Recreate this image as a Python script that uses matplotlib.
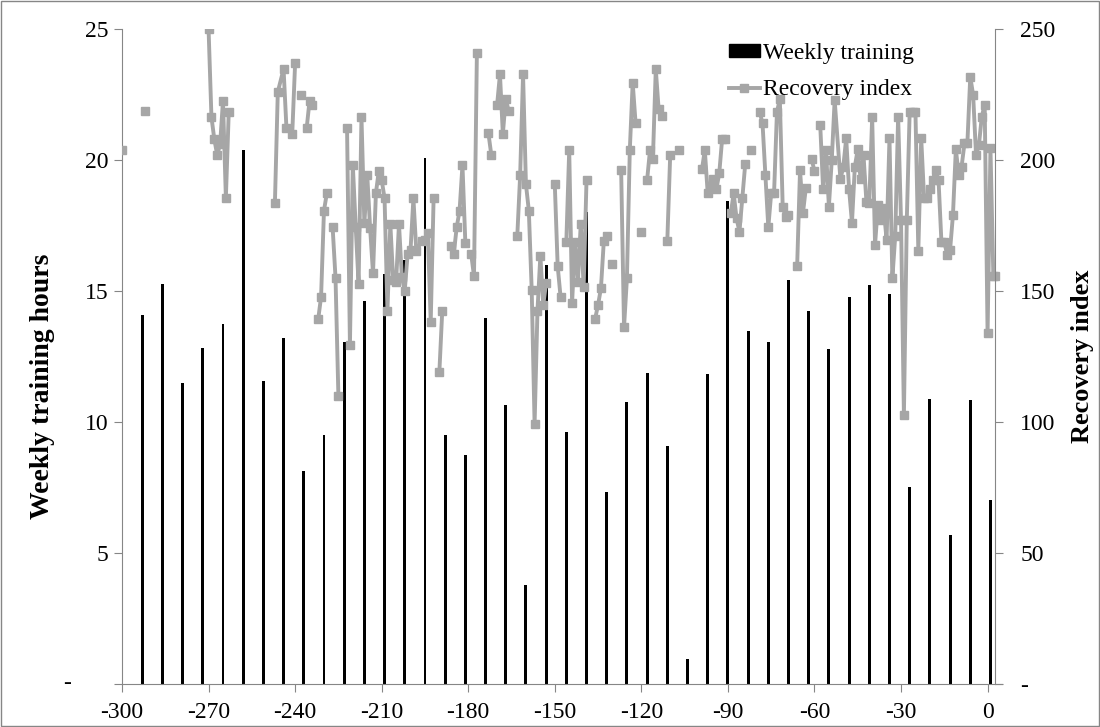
import numpy as np
import matplotlib
matplotlib.use('Agg')
import matplotlib.pyplot as plt
from matplotlib.patches import Patch, Rectangle
from matplotlib.lines import Line2D

plt.rcParams['font.family'] = ['Liberation Serif', 'DejaVu Serif']
plt.rcParams['axes.unicode_minus'] = False

nan = np.nan

# weekly training (hours), one bar per week
week_day = [-293, -286, -279, -272, -265, -258, -251, -244, -237, -230, -223,
            -216, -209, -202, -195, -188, -181, -174, -167, -160, -153, -146,
            -139, -132, -125, -118, -111, -104, -97, -90, -83, -76, -69, -62,
            -55, -48, -41, -34, -27, -20, -13, -6, 1]
week_hours = [14.1, 15.27, 11.5, 12.82, 13.74, 20.38, 11.56, 13.2, 8.14, 9.52,
              13.04, 14.62, 15.65, 16.2, 20.08, 9.5, 8.75, 13.98, 10.63, 3.78,
              15.99, 9.6, 18.0, 7.32, 10.76, 11.88, 9.1, 0.94, 11.83, 18.45,
              13.46, 13.04, 15.43, 14.24, 12.77, 14.76, 15.23, 14.89, 7.53,
              10.87, 5.7, 10.83, 7.01]

# recovery index (daily, nan = missing day -> gap in line)
rec_day = [-300, nan,
           -292, nan,
           -270, -269, -268, -267, -266, -265, -264, -263, nan,
           -247, -246, -244, -243, -241, -240, nan,
           -238, nan,
           -236, -235, -234, nan,
           -232, -231, -230, -229, nan,
           -227, -226, -225, nan,
           -222, -221, -220, -219, -218, -217, -216, -215, -214, -213, -212,
           -211, -210, -209, -208, -207, -206, -205, -204, -203, -202, -201,
           -200, -199, -198, -196, -195, -194, -193, -192, nan,
           -190, -189, nan,
           -186, -185, -184, -183, -182, -181, nan,
           -179, -178, -177, nan,
           -173, -172, nan,
           -170, -169, -168, -167, -166, nan,
           -163, -162, -161, -160, -159, -158, -157, -156, -155, -154, -153, nan,
           -150, -149, -148, nan,
           -146, -145, -144, -143, -142, -141, -140, -139, nan,
           -136, -135, -134, -133, -132, nan,
           -130, nan,
           -127, -126, -125, -124, -123, -122, nan,
           -120, nan,
           -118, -117, -116, -115, -114, -113, nan,
           -111, -110, nan,
           -107, nan,
           -99, -98, -97, -96, -95, -94, -93, -92, -91, nan,
           -89, -88, -87, -86, -85, -84, nan,
           -82, nan,
           -79, -78, -77, -76, -75, -74, -73, -72, -71, -70, -69, nan,
           -66, -65, -64, -63, nan,
           -61, -60, nan,
           -58, -57, -56, -55, -54, -53, -51, -50, -49, -48, -47, -46, -45,
           -44, -43, -42, -41, -40, -39, -38, -37, -36, -35, -34, -33, -32,
           -31, -30, -29, -28, -27, -26, -25, -24, -23, -22, -21, -20, -19,
           -18, -17, -16, -15, -14, -13, -12, -11, -10, -9, -8, -7, -6, -5,
           -4, -3, -2, -1, 0, 1, 2, 2.5]
rec_val = [203.8, nan,
           218.6, nan,
           250, 216.4, 207.9, 201.9, 206, 222.6, 185.6, 218.4, nan,
           183.7, 226, 234.7, 212.1, 209.9, 236.9, nan,
           225, nan,
           212.1, 222.6, 220.9, nan,
           139.2, 147.8, 180.7, 187.3, nan,
           174.3, 155.1, 110, nan,
           212.1, 129.4, 198.1, 174.5, 152.7, 216.3, 175.8, 194.3, 173.9, 156.7,
           187.3, 195.9, 192.4, 185.4, 142.5, 175.6, 154.2, 153.6, 175.6, 155.4,
           150.1, 164.3, 165.6, 185.4, 165.4, 169.2, 169.5, 172, 138.3, 185.4, nan,
           119.2, 142.5, nan,
           167.3, 164.3, 174.3, 180.7, 198.1, 168.4, nan,
           164.3, 155.7, 240.7, nan,
           210.2, 201.9, nan,
           221, 232.7, 209.9, 223.4, 218.8, nan,
           171, 194.3, 232.7, 190.8, 180.7, 150.4, 99.2, 142.5, 163.5, 144.7, 153.2, nan,
           190.8, 159.5, 147.8, nan,
           168.8, 203.8, 145.5, 168.8, 153.6, 175.6, 151.6, 192.4, nan,
           139.5, 144.7, 151.1, 169.2, 171, nan,
           160.2, nan,
           196.2, 136.1, 154.8, 203.8, 229.5, 214.2, nan,
           172.5, nan,
           192.4, 203.8, 200.2, 234.7, 219.3, 216.8, nan,
           169.2, 201.9, nan,
           203.8, nan,
           196.4, 203.8, 187.3, 190.1, 192.7, 188.8, 194.9, 208, 208, nan,
           179.6, 187.3, 177.7, 172.6, 185.4, 198.4, nan,
           203.8, nan,
           218.4, 214, 194.3, 174.3, 187.3, 187.3, 218.4, 223.2, 181.9, 178.4, 179, nan,
           159.5, 196.2, 179.6, 189.2, nan,
           200.3, 195.9, nan,
           213.3, 188.8, 204, 182.2, 200, 222.9, 192.6, 197.5, 208.3, 188.8,
           176.1, 197.5, 204.1, 192.6, 201.9, 184.1, 183.7, 216.3, 167.6, 182.9,
           177.1, 181.6, 169.5, 208.3, 154.8, 171, 216.6, 177.1, 102.7, 177.1,
           218.4, 218.4, 218.4, 165.4, 208.3, 185.4, 185.4, 188.8, 192.4, 196.2,
           192.4, 168.8, 168.8, 163.7, 165.6, 179, 204.1, 194.3, 197.5, 206.4,
           206.4, 231.8, 224.8, 201.9, 205.7, 216.6, 221.1, 133.8, 204.4, 155.7,
           155.7]

left_ticks = [0, 5, 10, 15, 20, 25]
left_labels = ['', '5', '10', '15', '20', '25']
right_ticks = [0, 50, 100, 150, 200, 250]
right_labels = ['-', '50', '100', '150', '200', '250']

grey_axis = '#868686'
grey_line = '#A6A6A6'
fs = 17

fig = plt.figure(figsize=(11, 7.27), dpi=100)
ax = fig.add_axes([122/1100, 43/727, 880/1100, 655/727])
ax2 = ax.twinx()

ax.bar(week_day, week_hours, width=1.0, color='black', zorder=2)
ax2.plot(rec_day, rec_val, color=grey_line, lw=2.8, marker='s', ms=5.2)

ax.set_xlim(-300, 5)
ax.set_ylim(0, 25)
ax2.set_ylim(0, 250)

ax.set_xticks(np.arange(-300, 1, 30))
ax.set_yticks(left_ticks)
ax.set_yticklabels(left_labels)
ax2.set_yticks(right_ticks)
ax2.set_yticklabels(right_labels)
ax.text(-0.0625, 0, '-', transform=ax.get_yaxis_transform(), ha='center',
        va='center', fontsize=fs)

for s in ['top', 'right']:
    ax.spines[s].set_visible(False)
for s in ['top', 'left', 'bottom']:
    ax2.spines[s].set_visible(False)
ax.spines['left'].set_color(grey_axis)
ax.spines['bottom'].set_color(grey_axis)
ax2.spines['right'].set_color(grey_axis)
ax2.spines['right'].set_position(('data', 2.6))

ax.tick_params(axis='x', direction='out', length=6, color=grey_axis, pad=7, labelsize=fs)
ax.tick_params(axis='y', direction='out', length=6, color=grey_axis, pad=4, labelsize=fs)
ax2.tick_params(axis='y', direction='out', length=6, color=grey_axis, pad=12, labelsize=fs)

ax.set_ylabel('Weekly training hours', fontsize=20, fontweight='bold')
ax.yaxis.set_label_coords(-0.076, 0.455)
ax2.set_ylabel('Recovery index', fontsize=19, fontweight='bold')
ax2.yaxis.set_label_coords(1.078, 0.5)

handles = [Patch(facecolor='black', edgecolor='black'),
           Line2D([], [], color=grey_line, lw=2.8, marker='s', ms=5.2)]
ax2.legend(handles, ['Weekly training', 'Recovery index'], loc='upper left',
           bbox_to_anchor=(729/1100, 1 - 43/727), bbox_transform=fig.transFigure,
           frameon=False, fontsize=fs, handlelength=1.3, handleheight=0.45,
           handletextpad=0.15, labelspacing=0.65, borderpad=0, borderaxespad=0,
           numpoints=1)

fig.patches.append(Rectangle((0.0005, 0.0007), 0.999, 0.9985, transform=fig.transFigure,
                             fill=False, edgecolor=grey_axis, lw=1))

fig.savefig('out.png', dpi=100)
